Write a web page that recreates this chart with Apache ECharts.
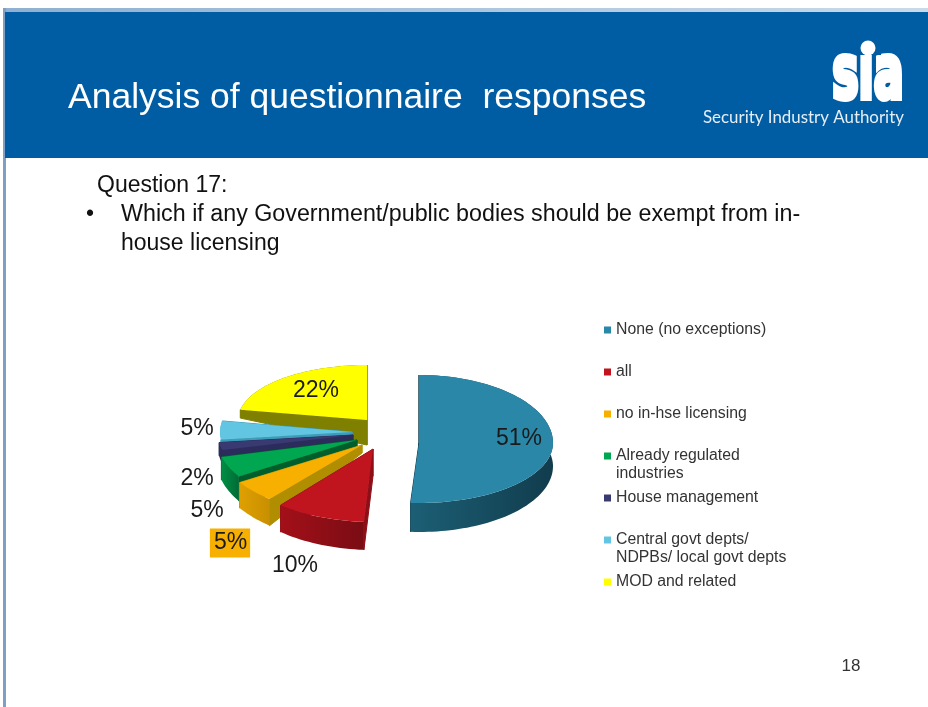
<!DOCTYPE html>
<html>
<head>
<meta charset="utf-8">
<style>html,body{margin:0;padding:0;background:#fff}#chart{width:928px;height:707px}</style>
<script src="https://cdn.jsdelivr.net/npm/echarts@6/dist/echarts.min.js"></script>
</head>
<body>
<div id="chart"></div>
<script>
// Survey results for question 17
const categories = ['None (no exceptions)', 'all', 'no in-hse licensing', 'Already regulated', 'House management', 'Central govt depts/', 'MOD and related'];
const continuationLines = ['', '', '', 'industries', '', 'NDPBs/ local govt depts', ''];
const percentages = [51, 10, 5, 5, 2, 5, 22];

// Slice palette: top face, cut wall, rim start, rim end
const topColors = ['#2A87A8', '#C0141F', '#F8B000', '#00A650', '#3A3A72', '#62C6E2', '#FFFF00'];
const wallColors = ['#123E50', '#8C0F18', '#B08E00', '#005E2D', '#2C2C5C', '#3D9DB8', '#7F7F00'];
const rimStart = ['#1C5F75', '#A31019', '#DFA000', '#008F45', '#2E2E5E', '#4FB5D0', '#7F7F00'];
const rimEnd = ['#113C4D', '#7A0C14', '#C88F00', '#006B35', '#2A2A55', '#4FB5D0', '#7F7F00'];

// Pie geometry
const pieCenter = [370, 437];
const explodeVectors = [[49, 6], [3, 12], [-8, 8], [-13, 3], [-17, -2], [-18, -5], [-3, -17]];
const radii = [[134, 68, 60], [145, 72, 73], [145, 70, 70], [140, 68, 68], [135, 60, 60], [132, 59, 60], [129, 55, 60]];
const rimDepth = [29, 28, 28, 27, 16, 16, 10];
const apexDepth = [27, 27, 8, 6, 5, 5, 25];
const drawOrder = [6, 5, 4, 3, 2, 1, 0];
const labelAnchors = [[519, 439], [295, 566], [230, 543], [207, 511], [197, 479], [197, 429], [316, 391]];
const legendRows = [330, 372, 414, 456, 498, 540, 582];

// Cumulative start/end angles in radians, clockwise from twelve o'clock
const total = percentages.reduce((a, b) => a + b, 0);
let running = 0;
const angleSpans = percentages.map(v => {
  const span = [running / total * 2 * Math.PI, (running + v) / total * 2 * Math.PI];
  running += v;
  return span;
});

function sliceItem(i) {
  return function (params, api) {
    const value = api.value(0);
    const [a0, a1] = angleSpans[i];
    const [rx, ryBack, ryFront] = radii[i];
    const apex = [pieCenter[0] + explodeVectors[i][0], pieCenter[1] + explodeVectors[i][1]];
    const point = t => {
      const c = Math.cos(t);
      return [apex[0] + rx * Math.sin(t), apex[1] - (c > 0 ? ryBack : ryFront) * c];
    };
    const drop = (p, t) => [p[0], p[1] + rimDepth[i] * (0.8 + 0.2 * Math.abs(Math.cos(t)))];
    const steps = Math.max(6, Math.ceil((a1 - a0) * 30));
    const angles = [];
    for (let k = 0; k <= steps; k++) angles.push(a0 + (a1 - a0) * k / steps);
    const arc = angles.map(point);
    const lowerArc = angles.map((t, k) => drop(arc[k], t));
    const apexLow = [apex[0], apex[1] + apexDepth[i]];
    const poly = (pts, fill, edge) => ({
      type: 'polygon',
      shape: { points: pts },
      style: edge ? { fill: fill, stroke: fill, lineWidth: 1 } : { fill: fill }
    });
    const grad = new echarts.graphic.LinearGradient(0, 0, 1, 0, [
      { offset: 0, color: rimStart[i] },
      { offset: 1, color: rimEnd[i] }
    ]);
    const n = arc.length - 1;
    const text = {
      type: 'text',
      x: labelAnchors[i][0],
      y: labelAnchors[i][1],
      z2: 10,
      style: {
        text: value + '%',
        fill: '#1a1a1a',
        font: '23px "Liberation Sans"',
        align: 'center',
        verticalAlign: 'middle'
      }
    };
    if (i === 2) {
      text.style.backgroundColor = '#F8B000';
      text.style.padding = [3, 3, 3, 4];
    }
    return {
      type: 'group',
      children: [
        poly([apex, arc[0], lowerArc[0], apexLow], wallColors[i], true),
        poly([apex, arc[n], lowerArc[n], apexLow], wallColors[i], true),
        poly(arc.concat(lowerArc.slice().reverse()), grad),
        poly([apex].concat(arc), topColors[i]),
        text
      ]
    };
  };
}

const series = categories.map((name, i) => ({
  type: 'custom',
  name: name,
  coordinateSystem: 'none',
  silent: true,
  z: 2 + drawOrder.indexOf(i),
  itemStyle: { color: topColors[i] },
  renderItem: sliceItem(i),
  data: [[percentages[i]]]
}));

// One legend block per row so the rows keep an even pitch despite wrapped names
const legends = categories.map((name, i) => ({
  data: [{ name: name, icon: 'rect' }],
  left: 604,
  top: legendRows[i] - 8,
  padding: 0,
  itemWidth: 7,
  itemHeight: 7,
  selectedMode: false,
  textStyle: { fontFamily: 'Liberation Sans', fontSize: 15.8, color: '#333' }
}));

const wrapped = continuationLines.map((line, i) => ({
  type: 'text',
  x: 616,
  y: legendRows[i] + 18,
  style: { text: line, fill: '#333', font: '15.8px "Liberation Sans"', verticalAlign: 'middle' }
})).filter(el => el.style.text);

const slideDecor = [
  { type: 'rect', shape: { x: 0, y: 0, width: 928, height: 707 }, style: { fill: '#fff' }, z: -5 },
  { type: 'rect', shape: { x: 3, y: 8, width: 925, height: 4 },
    style: { fill: new echarts.graphic.LinearGradient(0, 0, 1, 0, [{ offset: 0, color: '#8FB0D2' }, { offset: 1, color: '#C9DAEA' }]) }, z: -4 },
  { type: 'rect', shape: { x: 3, y: 8, width: 3, height: 699 }, style: { fill: '#7F9FC4' }, z: -4 },
  { type: 'rect', shape: { x: 5, y: 12, width: 923, height: 146 }, style: { fill: '#005DA3' }, z: -3 },
  { type: 'text', x: 68, y: 98, style: { text: 'Analysis of questionnaire  responses', fill: '#fff', font: '35.5px "Liberation Sans"', verticalAlign: 'middle' } },
  { type: 'text', x: 97, y: 186, style: { text: 'Question 17:', fill: '#111', font: '23px "Liberation Sans"', verticalAlign: 'middle' } },
  { type: 'text', x: 86, y: 215, style: { text: '•', fill: '#111', font: '23px "Liberation Sans"', verticalAlign: 'middle' } },
  { type: 'text', x: 121, y: 215, scaleX: 1.012, style: { text: 'Which if any Government/public bodies should be exempt from in-', fill: '#111', font: '23px "Liberation Sans"', verticalAlign: 'middle' } },
  { type: 'text', x: 121, y: 244, style: { text: 'house licensing', fill: '#111', font: '23px "Liberation Sans"', verticalAlign: 'middle' } },
  { type: 'text', x: 851, y: 666, style: { text: '18', fill: '#333', font: '17px "Liberation Sans"', align: 'center', verticalAlign: 'middle' } },
  // Organisation mark
  { type: 'text', x: 868, y: 79, scaleX: 0.6, style: { text: 'sia', fill: '#fff', stroke: '#fff', lineWidth: 6, font: 'bold 74px "DejaVu Sans"', align: 'center', verticalAlign: 'middle' } },
  { type: 'rect', shape: { x: 855, y: 35, width: 26, height: 20 }, style: { fill: '#005DA3' } },
  { type: 'circle', shape: { cx: 868, cy: 48, r: 7.5 }, style: { fill: '#fff' } },
  { type: 'text', x: 703, y: 118, style: { text: 'Security Industry Authority', fill: '#E6EEF6', font: '16.9px "Lato"', verticalAlign: 'middle' } }
];

const chart = echarts.init(document.getElementById('chart'), null, { renderer: 'canvas' });
chart.setOption({
  animation: false,
  backgroundColor: '#fff',
  legend: legends,
  series: series,
  graphic: { elements: slideDecor.concat(wrapped) }
});
</script>
</body>
</html>
